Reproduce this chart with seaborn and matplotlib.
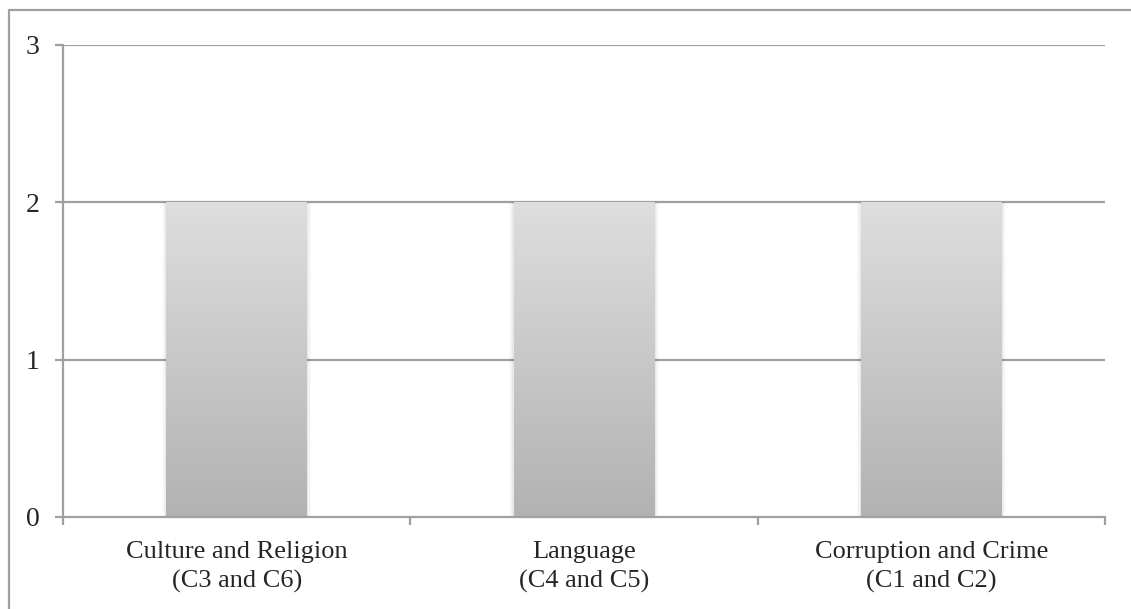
import numpy as np
import pandas as pd
import matplotlib
matplotlib.use("Agg")
import matplotlib.pyplot as plt
import seaborn as sns
from matplotlib.colors import LinearSegmentedColormap
from matplotlib.lines import Line2D

categories = ["Culture and Religion\n(C3 and C6)",
              "Language\n(C4 and C5)",
              "Corruption and Crime\n(C1 and C2)"]
values = [2, 2, 2]
y_ticks = [0, 1, 2, 3]

sns.set_theme(style="white")
plt.rcParams["font.family"] = ["Liberation Serif", "DejaVu Serif"]

GRID = "#a0a0a0"

fig = plt.figure(figsize=(11.31, 6.09), dpi=100)
ax = fig.add_axes([63 / 1131, 1 - 517 / 609, (1105 - 63) / 1131, (517 - 45) / 609])

df = pd.DataFrame({"category": categories, "value": values})
sns.barplot(data=df, x="category", y="value", ax=ax, width=0.405,
            color="#c8c8c8", errorbar=None, zorder=3)

ax.set_ylim(0, 3)
ax.set_xlim(-0.5, len(categories) - 0.5)
ax.set_yticks(y_ticks)
ax.set_yticklabels([str(t) for t in y_ticks])
ax.set_xlabel("")
ax.set_ylabel("")

# vertical gradient fill for each bar plus a soft shadow
cmap = LinearSegmentedColormap.from_list("bargrad", ["#b2b2b2", "#dedede"])
grad = np.linspace(0, 1, 256).reshape(-1, 1)
for patch in ax.patches:
    x0, w, h = patch.get_x(), patch.get_width(), patch.get_height()
    for k, a in enumerate([0.04, 0.03, 0.02]):
        dx = 0.004 * (k + 1)
        ax.fill_between([x0 - dx, x0 + w + dx], 0, h, color="#000000",
                        alpha=a, linewidth=0, zorder=2)
    ax.imshow(grad, extent=[x0, x0 + w, 0, h], origin="lower", cmap=cmap,
              aspect="auto", zorder=3.5, interpolation="bicubic")
    patch.set_visible(False)
ax.set_xlim(-0.5, len(categories) - 0.5)
ax.set_ylim(0, 3)

# horizontal grid lines
for t in y_ticks[1:]:
    ax.axhline(t, color=GRID, linewidth=1.6, zorder=1)

for s in ["top", "right"]:
    ax.spines[s].set_visible(False)
for s in ["left", "bottom"]:
    ax.spines[s].set_color(GRID)
    ax.spines[s].set_linewidth(1.6)
    ax.spines[s].set_zorder(5)

# category boundary ticks on the x axis
ax.set_xticks(np.arange(len(categories)))
ax.set_xticklabels(categories, fontsize=19, linespacing=1.4)
ax.set_xticks(np.arange(-0.5, len(categories)), minor=True)
ax.tick_params(axis="x", which="major", length=0, pad=17)
ax.tick_params(axis="x", which="minor", direction="out", length=6,
               width=1.6, color=GRID, bottom=True)
ax.tick_params(axis="y", direction="out", length=6, width=1.6, color=GRID,
               left=True, labelsize=20, pad=11)

# outer frame (top and left edges visible)
fig.add_artist(Line2D([8.5 / 1131, 8.5 / 1131], [0, 1 - 10 / 609],
                      transform=fig.transFigure, color=GRID, linewidth=1.6))
fig.add_artist(Line2D([8.5 / 1131, 1], [1 - 10 / 609, 1 - 10 / 609],
                      transform=fig.transFigure, color=GRID, linewidth=1.6))

fig.savefig("out.png", dpi=100)
